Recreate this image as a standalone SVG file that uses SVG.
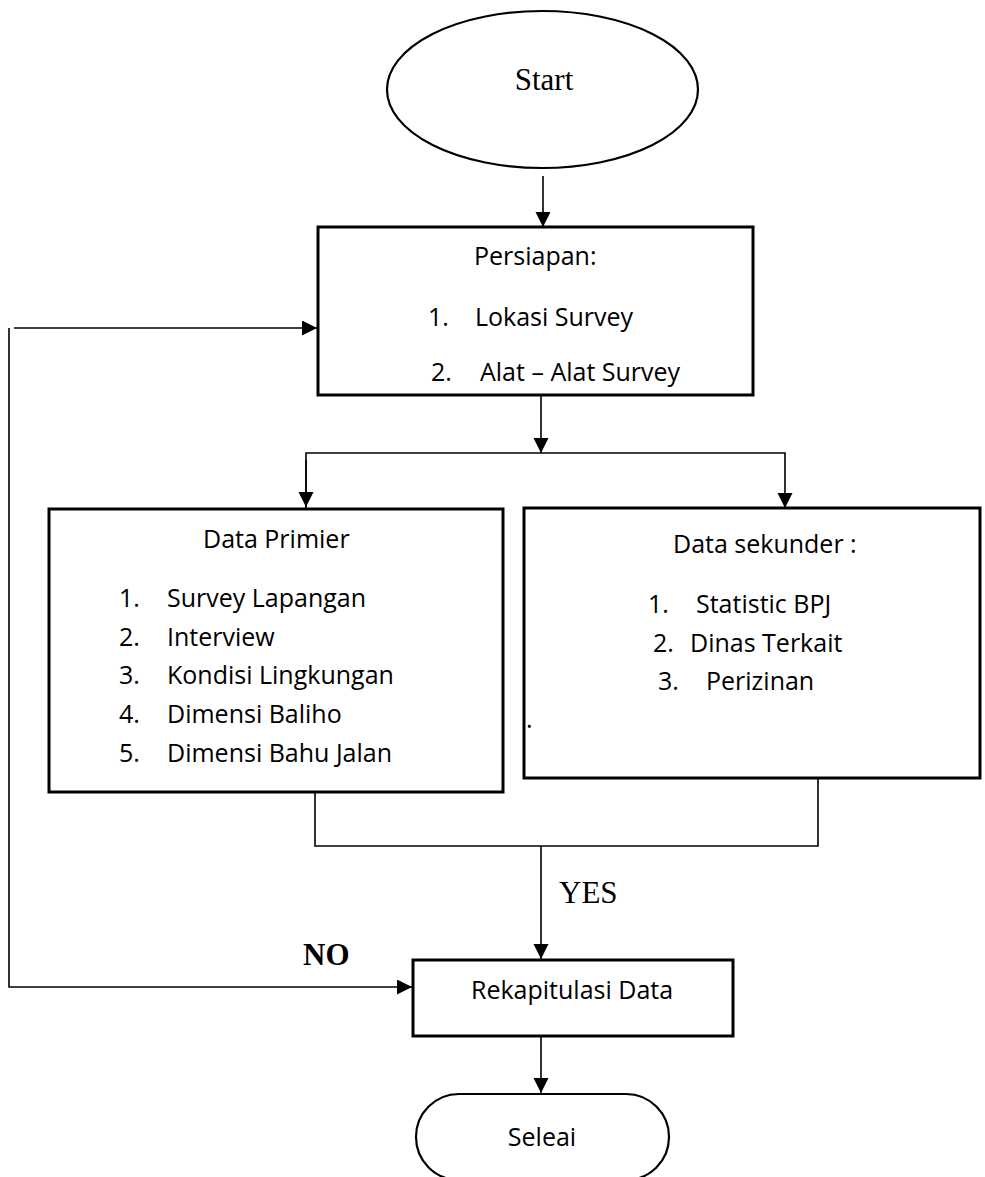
<svg xmlns="http://www.w3.org/2000/svg" width="985" height="1177" viewBox="0 0 985 1177">
<style>
.box{fill:#fff;stroke:#000;stroke-width:3}
.term{fill:#fff;stroke:#000;stroke-width:2.2}
.ln{fill:none;stroke:#000;stroke-width:1.6}
.t{font-family:"Open Sans","Liberation Sans",sans-serif;font-size:25px;fill:#000}
.s{font-family:"Liberation Serif","Times New Roman",serif;font-size:31px;fill:#000}
.b{font-weight:bold}
</style>
<defs>
<marker id="ah" markerUnits="userSpaceOnUse" markerWidth="16" markerHeight="16" viewBox="0 0 16 16" refX="15" refY="7.5" orient="auto">
<path d="M0,0 L15,7.5 L0,15 Z" fill="#000"/>
</marker>
</defs>
<g id="connectors">
<line class="ln" x1="543" y1="176" x2="543" y2="227" marker-end="url(#ah)"/>
<line class="ln" x1="541" y1="396" x2="541" y2="453" marker-end="url(#ah)"/>
<polyline class="ln" points="306,508 306,453 785,453 785,508" marker-end="url(#ah)"/>
<line class="ln" x1="306" y1="460" x2="306" y2="507" marker-end="url(#ah)"/>
<polyline class="ln" points="315,793 315,846 818,846 818,779"/>
<line class="ln" x1="541" y1="846" x2="541" y2="959" marker-end="url(#ah)"/>
<line class="ln" x1="541" y1="1037" x2="541" y2="1093" marker-end="url(#ah)"/>
<line class="ln" x1="14" y1="328" x2="317" y2="328" marker-end="url(#ah)"/>
<polyline class="ln" points="9,328 9,987 412,987" marker-end="url(#ah)"/>
<text class="s" x="559" y="903">YES</text>
<text class="s b" x="303" y="965">NO</text>
</g>
<g id="start">
<ellipse class="term" cx="542.5" cy="89.5" rx="155.5" ry="78.5"/>
<text class="s" x="544" y="90" text-anchor="middle">Start</text>
</g>
<g id="persiapan">
<rect class="box" x="318" y="227" width="435" height="168"/>
<text class="t" x="474" y="265">Persiapan:</text>
<text class="t" x="428" y="326">1.</text>
<text class="t" x="475" y="326">Lokasi Survey</text>
<text class="t" x="431" y="381">2.</text>
<text class="t" x="480" y="381">Alat – Alat Survey</text>
</g>
<g id="data-primier">
<rect class="box" x="49" y="509" width="454" height="283"/>
<text class="t" x="203" y="548">Data Primier</text>
<text class="t" x="119" y="607">1.</text>
<text class="t" x="167" y="607">Survey Lapangan</text>
<text class="t" x="119" y="646">2.</text>
<text class="t" x="167" y="646">Interview</text>
<text class="t" x="119" y="684">3.</text>
<text class="t" x="167" y="684">Kondisi Lingkungan</text>
<text class="t" x="119" y="723">4.</text>
<text class="t" x="167" y="723">Dimensi Baliho</text>
<text class="t" x="119" y="762">5.</text>
<text class="t" x="167" y="762">Dimensi Bahu Jalan</text>
</g>
<g id="data-sekunder">
<rect class="box" x="524" y="508" width="456" height="270"/>
<text class="t" x="673" y="553">Data sekunder :</text>
<text class="t" x="648" y="613">1.</text>
<text class="t" x="696" y="613">Statistic BPJ</text>
<text class="t" x="653" y="652">2.</text>
<text class="t" x="690" y="652">Dinas Terkait</text>
<text class="t" x="658" y="690">3.</text>
<text class="t" x="706" y="690">Perizinan</text>
<text class="t" x="526" y="728">.</text>
</g>
<g id="rekapitulasi">
<rect class="box" x="413" y="960" width="320" height="76"/>
<text class="t" x="471" y="999">Rekapitulasi Data</text>
</g>
<g id="seleai">
<rect class="term" x="416" y="1094" width="253" height="86" rx="43"/>
<text class="t" x="542" y="1146" text-anchor="middle">Seleai</text>
</g>
</svg>
